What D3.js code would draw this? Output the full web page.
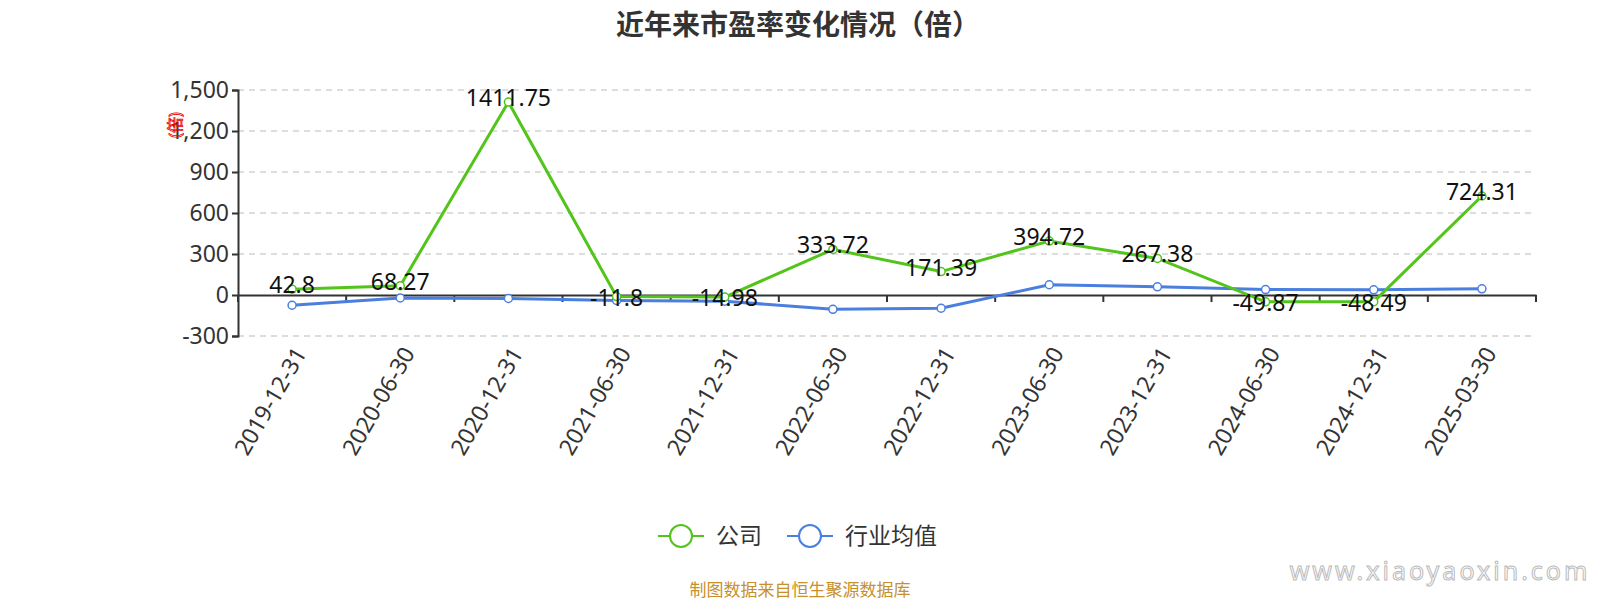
<!DOCTYPE html>
<html><head><meta charset="utf-8">
<script src="https://cdn.jsdelivr.net/npm/d3@7"></script>
<style>body{margin:0;background:#fff;font-family:"Noto Sans","Noto Sans CJK SC",sans-serif}</style>
</head><body><svg id="c" width="1600" height="600"></svg>
<script>
var categories = ["2019-12-31","2020-06-30","2020-12-31","2021-06-30","2021-12-31","2022-06-30","2022-12-31","2023-06-30","2023-12-31","2024-06-30","2024-12-31","2025-03-30"];
var company = [42.8,68.27,1411.75,-11.8,-14.98,333.72,171.39,394.72,267.38,-49.87,-48.49,724.31];
var industry = [-75,-22,-25,-40,-45,-105,-97,75,60,40,38,45];
var yTicks = [-300,0,300,600,900,1200,1500];

var svg = d3.select("#c");
var x = d3.scaleBand().domain(categories).range([238,1536]);
var y = d3.scaleLinear().domain([-300,1500]).range([336,90]);
var cx = function(d){ return x(d) + x.bandwidth()/2; };

svg.append("text").attr("x",798).attr("y",35).attr("text-anchor","middle")
  .attr("font-size",28).attr("font-weight","bold").attr("fill","#333").text("近年来市盈率变化情况（倍）");

// grid
svg.selectAll(".grid").data(yTicks.filter(function(d){return d!==0;})).enter().append("line")
  .attr("x1",238).attr("x2",1536).attr("y1",y).attr("y2",y)
  .attr("stroke","#bbb").attr("stroke-dasharray","6,5");

var yAxis = svg.append("g").attr("transform","translate(238,0)")
  .call(d3.axisLeft(y).tickValues(yTicks).tickFormat(function(d){return d3.format(",")(d).replace("−","-");}).tickSizeOuter(0).tickSize(6));
yAxis.select(".domain").attr("stroke","#333").attr("stroke-width",2);
yAxis.selectAll(".tick line").attr("stroke","#333").attr("stroke-width",2);
yAxis.selectAll("text").attr("font-size",23).attr("fill","#333").attr("font-family","Noto Sans");

var xAxis = svg.append("g").attr("transform","translate(0,"+y(0)+")")
  .call(d3.axisBottom(x).tickSize(0).tickSizeOuter(0));
xAxis.select(".domain").attr("stroke","#333").attr("stroke-width",2);
xAxis.selectAll(".tick text").remove();
var bounds = categories.map(function(d){return x(d);}).concat([1536]);
svg.selectAll(".xt").data(bounds).enter().append("line")
  .attr("x1",function(d){return d;}).attr("x2",function(d){return d;})
  .attr("y1",y(0)).attr("y2",y(0)+7).attr("stroke","#333").attr("stroke-width",2);
svg.selectAll(".xl").data(categories).enter().append("text")
  .attr("transform",function(d){return "translate("+(cx(d)+10)+","+(y(-300)+14)+") rotate(-60)";})
  .attr("text-anchor","end").attr("dominant-baseline","middle")
  .attr("font-size",23).attr("fill","#333").text(function(d){return d;});

// stamp
svg.append("text").attr("transform","translate(177,125) rotate(-90)").attr("text-anchor","middle")
  .attr("dominant-baseline","middle").attr("font-size",16).attr("fill","none").attr("stroke","#e00").attr("stroke-width",0.8).text("(倍)");

function series(vals,color,labels){
  var line = d3.line().x(function(d,i){return cx(categories[i]);}).y(function(d){return y(d);});
  svg.append("path").datum(vals).attr("d",line).attr("fill","none").attr("stroke",color).attr("stroke-width",3);
  svg.selectAll(null).data(vals).enter().append("circle")
    .attr("cx",function(d,i){return cx(categories[i]);}).attr("cy",function(d){return y(d);})
    .attr("r",4).attr("fill","#fff").attr("stroke",color).attr("stroke-width",1.5);
  if(labels){
    svg.selectAll(null).data(vals).enter().append("text")
      .attr("x",function(d,i){return cx(categories[i]);})
      .attr("y",function(d){return d<0 ? y(d)+9 : y(d)+4;})
      .attr("text-anchor","middle").attr("font-size",23).attr("fill","#111").text(function(d){return d;});
  }
}
series(industry,"#4a7fe0",false);
series(company,"#52c41a",true);

// legend
var leg = [{n:"公司",c:"#52c41a",x:658},{n:"行业均值",c:"#4a7fe0",x:787}];
leg.forEach(function(l){
  svg.append("line").attr("x1",l.x).attr("x2",l.x+46).attr("y1",536).attr("y2",536).attr("stroke",l.c).attr("stroke-width",2);
  svg.append("circle").attr("cx",l.x+23).attr("cy",536).attr("r",11).attr("fill","#fff").attr("stroke",l.c).attr("stroke-width",2);
  svg.append("text").attr("x",l.x+58).attr("y",544).attr("font-size",23).attr("fill","#333").text(l.n);
});

svg.append("text").attr("x",800).attr("y",596).attr("text-anchor","middle").attr("font-size",17).attr("fill","#c8902a").text("制图数据来自恒生聚源数据库");
svg.append("text").attr("x",1440).attr("y",580).attr("text-anchor","middle").attr("font-size",25)
  .attr("fill","none").attr("stroke","#bbb").attr("stroke-width",1).attr("letter-spacing",3).text("www.xiaoyaoxin.com");
</script></body></html>
